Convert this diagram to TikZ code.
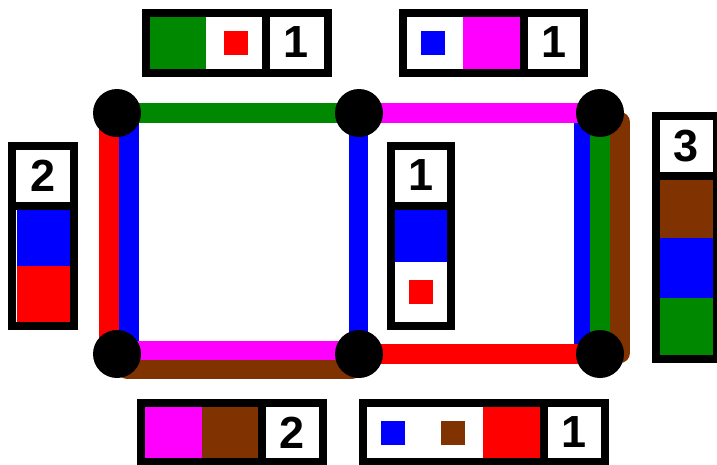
\documentclass[tikz,border=0pt]{standalone}
\usepackage{fontspec}
\setmainfont{Liberation Sans}
\usetikzlibrary{calc,backgrounds}
\definecolor{cgreen}{RGB}{0,136,0}
\definecolor{cbrown}{RGB}{128,51,0}
\definecolor{cblue}{RGB}{0,0,255}
\definecolor{cred}{RGB}{255,0,0}
\definecolor{cmag}{RGB}{255,0,255}
\begin{document}
\begin{tikzpicture}[x=1pt,y=-1pt,
  vtx/.style={circle,fill=black,minimum size=48pt,inner sep=0pt},
  edge/.style={line width=20pt},
  frame/.style={draw=black,line width=8pt},
  num/.style={font=\fontsize{45}{45}\selectfont\bfseries,inner sep=0pt,text=black}]
\useasboundingbox (0,0) rectangle (717,464);
% vertices
\node[vtx] (A) at (117,113) {};
\node[vtx] (B) at (359,113) {};
\node[vtx] (C) at (600,113) {};
\node[vtx] (D) at (117,354) {};
\node[vtx] (E) at (359,354) {};
\node[vtx] (F) at (600,354) {};
\begin{scope}[on background layer]
\fill[white] (0,0) rectangle (717,464);
% vertical edges
\draw[edge,cred] ($(A.center)+(-8,0)$) -- ($(D.center)+(-8,0)$);
\draw[edge,cblue] ($(A.center)+(12,0)$) -- ($(D.center)+(12,0)$);
\draw[line width=19pt,cblue] ($(B.center)+(-0.5,0)$) -- ($(E.center)+(-0.5,0)$);
\draw[line width=16pt,cblue] ($(C.center)+(-18,0)$) -- ($(F.center)+(-18,0)$);
\draw[edge,cgreen] (C.center) -- (F.center);
\draw[edge,cbrown,line cap=round] ($(C.center)+(20,9)$) -- ($(F.center)+(20,-1)$);
% horizontal edges
\draw[edge,cgreen] (A.center) -- (B.center);
\draw[edge,cmag] (B.center) -- (C.center);
\draw[line width=19pt,cbrown,line cap=round] ($(D.center)+(10,15)$) -- ($(E.center)+(-7,15)$);
\draw[line width=19pt,cmag] ($(D.center)+(0,-3.5)$) -- ($(E.center)+(0,-3.5)$);
\draw[edge,cred] (E.center) -- (F.center);
\end{scope}
% top-left label
\fill[cgreen] (149.5,16.7) rectangle (205.5,68.5);
\fill[cred] (224,31) rectangle (247.7,54.5);
\draw[frame] (145.5,12.8) rectangle (266,72.5);
\draw[frame] (266,12.8) rectangle (327.7,72.5);
\node[num] (ntl) at (296.3,42.5) {1};
% top-right label
\fill[cblue] (421,31) rectangle (445,54.5);
\fill[cmag] (463.3,16.7) rectangle (520,68.5);
\draw[frame] (403,12.8) rectangle (524,72.5);
\draw[frame] (524,12.8) rectangle (584.3,72.5);
\node[num] (ntr) at (554.2,42.5) {1};
% left label
\fill[cblue] (16.5,209.3) rectangle (69.5,266);
\fill[cred] (16.5,266) rectangle (69.5,322.7);
\draw[frame] (12.3,145.6) rectangle (73.7,205.5);
\draw[frame] (12.3,205.5) rectangle (73.7,326.4);
\node[num] (nl) at (43,175.5) {2};
% middle label
\fill[cblue] (395,209.3) rectangle (447,262);
\fill[cred] (409,280) rectangle (433.3,304.3);
\draw[frame] (390.8,145.6) rectangle (451,205.5);
\draw[frame] (390.8,205.5) rectangle (451,326.4);
\node[num] (nm) at (421,175.5) {1};
% right label
\fill[cbrown] (660,180) rectangle (713,237.5);
\fill[cblue] (660,237.5) rectangle (713,298.3);
\fill[cgreen] (660,298.3) rectangle (713,355);
\draw[frame] (655.8,116) rectangle (716.8,175.8);
\draw[frame] (655.8,175.8) rectangle (716.8,359);
\node[num] (nr) at (686.3,146) {3};
% bottom-left label
\fill[cmag] (145,406.7) rectangle (201.7,458.5);
\fill[cbrown] (201.7,406.7) rectangle (258.5,458.5);
\draw[frame] (140.8,402.8) rectangle (262.2,462.3);
\draw[frame] (262.2,402.8) rectangle (322.5,462.3);
\node[num] (nbl) at (292.3,432.5) {2};
% bottom-right label
\fill[cblue] (381,421) rectangle (405,444.5);
\fill[cbrown] (441,421) rectangle (465,444.5);
\fill[cred] (483.3,406.7) rectangle (540,458.5);
\draw[frame] (363,402.8) rectangle (543.9,462.3);
\draw[frame] (543.9,402.8) rectangle (605,462.3);
\node[num] (nbr) at (574.4,432.5) {1};
\end{tikzpicture}
\end{document}
